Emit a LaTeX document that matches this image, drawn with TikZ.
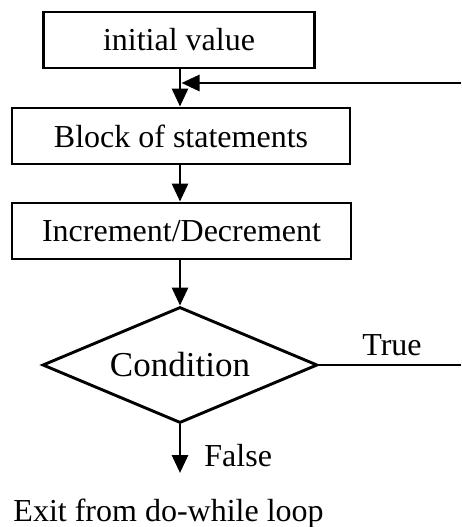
\documentclass[tikz,border=0pt]{standalone}
\usepackage{fontspec}
\setmainfont{Liberation Serif}
\usetikzlibrary{arrows.meta,shapes.geometric}
\begin{document}
\begin{tikzpicture}[x=1pt,y=-1pt,
  line width=2.9pt,
  stepbox/.style={draw, rectangle, minimum height=56pt, inner sep=0pt, font=\fontsize{32}{36}\selectfont},
  decision/.style={draw, diamond, aspect=2.37, minimum width=275pt, minimum height=116pt, inner sep=0pt, font=\fontsize{35}{40}\selectfont},
  lbl/.style={font=\fontsize{32}{36}\selectfont, inner sep=0pt},
  flow/.style={-{Triangle[length=18pt,width=16pt]}}]
\useasboundingbox[fill=white] (0,0) rectangle (461,527);
\node[stepbox, minimum width=271pt] (init) at (179,40) {initial value};
\node[stepbox, minimum width=338pt] (block) at (181,136) {Block of statements};
\node[stepbox, minimum width=339pt] (incdec) at (181.5,231) {Increment/Decrement};
\node[decision] (cond) at (180,365) {Condition};
\coordinate (join) at (181.5,83);
\coordinate (loopin) at (461,83);
\coordinate (loopout) at (461,365);
\coordinate (exitpt) at (180,473);
\node[lbl, anchor=base] (true) at (392,355) {True};
\node[lbl, anchor=base west] (false) at (203,466) {False};
\node[lbl, anchor=base west] (exit) at (12,521) {Exit from do-while loop};
\draw[flow] (init.south -| cond.north) -- (block.north -| cond.north);
\draw[flow] (loopin) -- (join);
\draw[flow] (block.south -| cond.north) -- (incdec.north -| cond.north);
\draw[flow] (incdec.south -| cond.north) -- (cond.north);
\draw (cond.east) -- (loopout);
\draw[flow] (cond.south) -- (exitpt);
\end{tikzpicture}
\end{document}
